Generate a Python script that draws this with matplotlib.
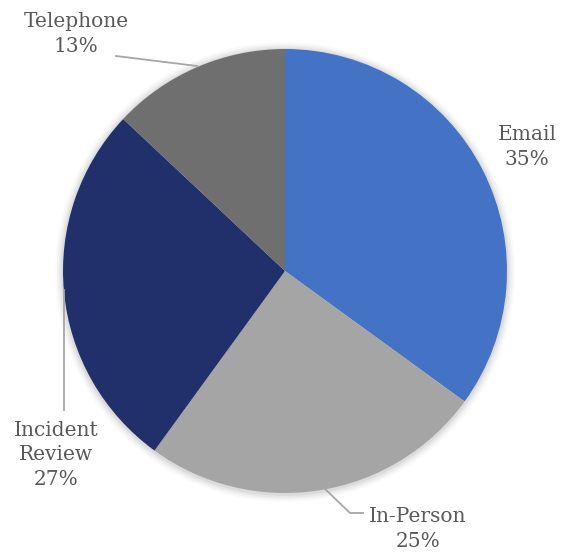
import matplotlib
matplotlib.use("Agg")
import matplotlib.pyplot as plt
from matplotlib.patches import Circle

categories = ["Email", "In-Person", "Incident\nReview", "Telephone"]
values = [35, 25, 27, 13]
colors = ["#4472C4", "#A5A5A5", "#21306A", "#6F6F6F"]

W, H = 567, 554
fig = plt.figure(figsize=(W / 100, H / 100), dpi=100)
ax = fig.add_axes([0, 0, 1, 1])
ax.set_xlim(0, W)
ax.set_ylim(0, H)
ax.axis("off")

cx, cy, r = 285, H - 271, 222

# soft shadow
for i, a in enumerate([0.05, 0.04, 0.03, 0.02]):
    ax.add_patch(Circle((cx, cy - 1), r + 2 + 2 * i, color="black", alpha=a, lw=0, zorder=0))

wedges, _ = ax.pie(values, colors=colors, startangle=90, counterclock=False,
                   center=(cx, cy), radius=r, frame=True,
                   wedgeprops=dict(linewidth=0))
ax.set_xlim(0, W)
ax.set_ylim(0, H)
ax.set_aspect("auto")
ax.axis("off")

tc = "#595959"
fs = 14.5
fam = "DejaVu Serif"

def label(x, y, txt):
    ax.text(x, H - y, txt, ha="center", va="center", color=tc, fontsize=fs,
            family=fam, linespacing=1.38)

label(527, 147, f"{categories[0]}\n{values[0]}%")
label(418, 529, f"{categories[1]}\n{values[1]}%")
label(56, 455, f"Incident\nReview\n{values[2]}%")
label(76, 34, f"{categories[3]}\n{values[3]}%")

lc = "#A6A6A6"
ax.plot([116, 197], [H - 56, H - 66], color=lc, lw=1.3)
ax.plot([64, 64], [H - 290, H - 410], color=lc, lw=1.3)
ax.plot([323, 350, 363], [H - 487, H - 513, H - 513], color=lc, lw=1.3)

fig.savefig("out.png", dpi=100)
